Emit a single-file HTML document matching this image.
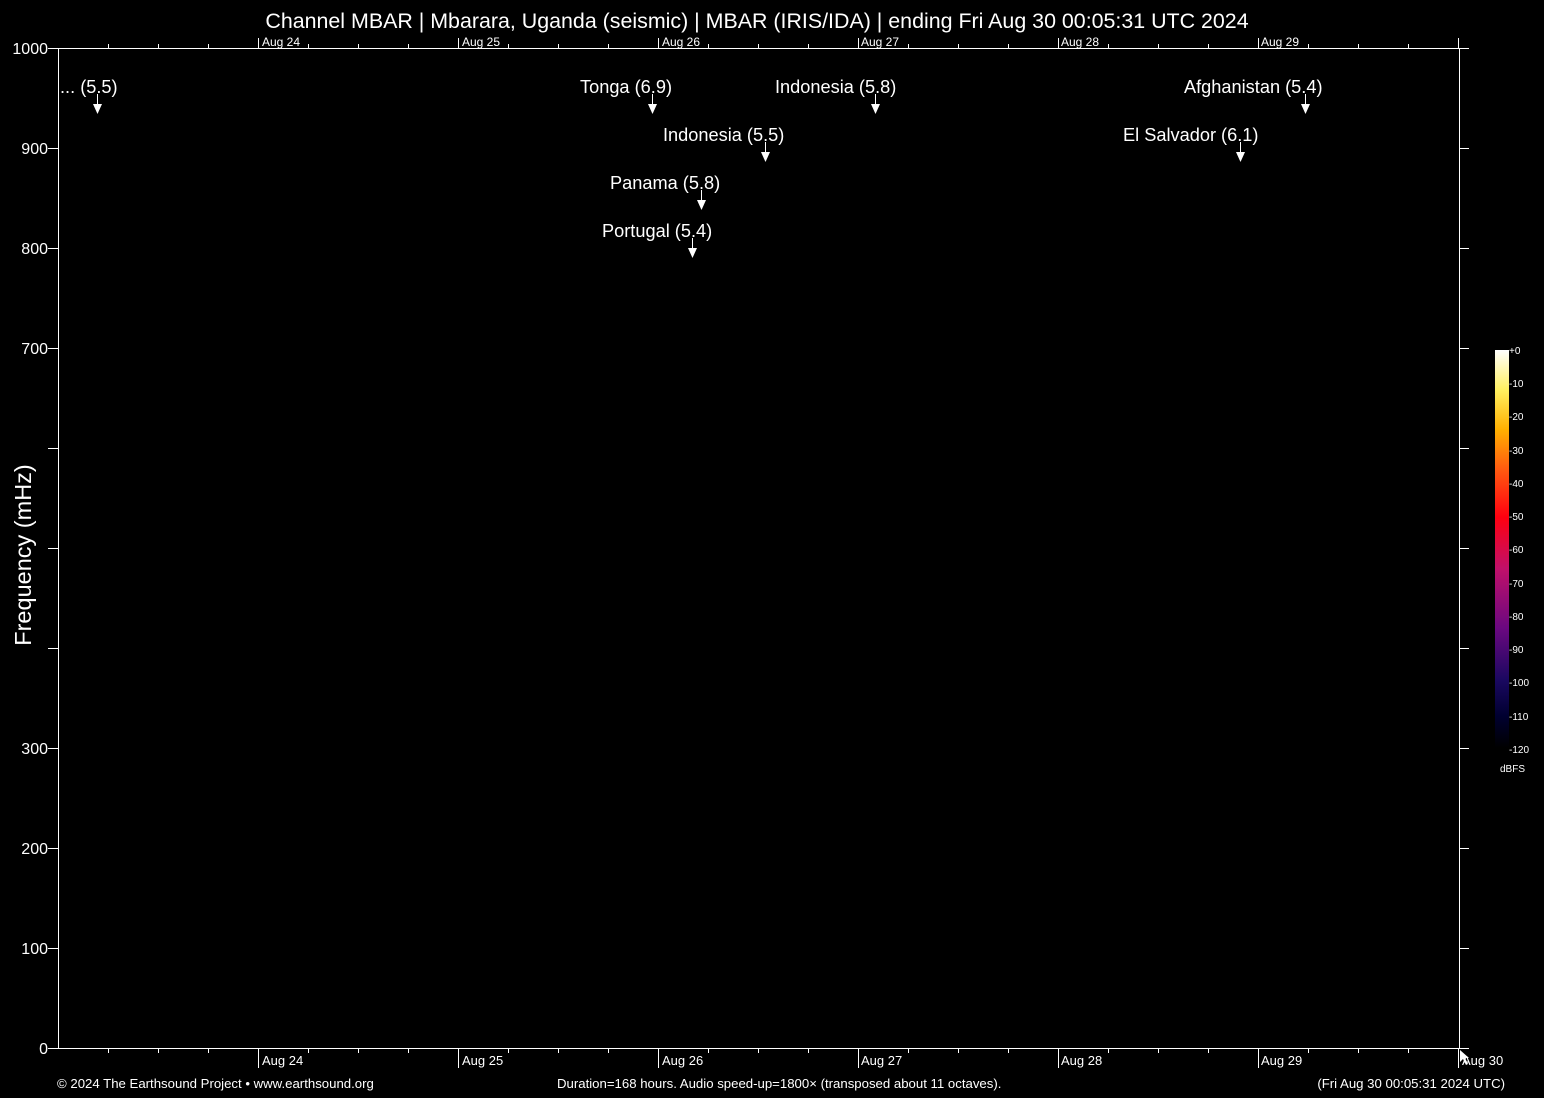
<!DOCTYPE html>
<html><head><meta charset="utf-8"><style>
html,body{margin:0;padding:0;background:#000;}
svg{display:block;font-family:"Liberation Sans",sans-serif;}
</style></head><body>
<svg width="1544" height="1098" viewBox="0 0 1544 1098" xmlns="http://www.w3.org/2000/svg">
<defs>
<linearGradient id="cb" x1="0" y1="1" x2="0" y2="0">
<stop offset="0" stop-color="#000000"/>
<stop offset="0.08" stop-color="#000030"/>
<stop offset="0.17" stop-color="#1a0860"/>
<stop offset="0.3" stop-color="#6a0880"/>
<stop offset="0.45" stop-color="#c0106a"/>
<stop offset="0.58" stop-color="#ff0010"/>
<stop offset="0.7" stop-color="#ff5a10"/>
<stop offset="0.8" stop-color="#ffb000"/>
<stop offset="0.9" stop-color="#fff060"/>
<stop offset="1" stop-color="#ffffff"/>
</linearGradient>
</defs>
<rect width="1544" height="1098" fill="#000"/>
<text x="757" y="28" fill="#fff" font-size="21.4" text-anchor="middle">Channel MBAR | Mbarara, Uganda (seismic) | MBAR (IRIS/IDA) | ending Fri Aug 30 00:05:31 UTC 2024</text>
<g stroke="#fff" stroke-width="1" fill="none" shape-rendering="crispEdges">
<path d="M58.5 48.5H1469 M58.5 48V1048 M58 1048.5H1469 M1459.5 48V1048"/>
<path d="M48 48.5H58 M48 148.5H58 M48 248.5H58 M48 348.5H58 M48 448.5H58 M48 548.5H58 M48 648.5H58 M48 748.5H58 M48 848.5H58 M48 948.5H58 M48 1048.5H58"/>
<path d="M1459 148.5H1469 M1459 248.5H1469 M1459 348.5H1469 M1459 448.5H1469 M1459 548.5H1469 M1459 648.5H1469 M1459 748.5H1469 M1459 848.5H1469 M1459 948.5H1469"/>
<path d="M258.5 1048V1068 M458.5 1048V1068 M658.5 1048V1068 M858.5 1048V1068 M1058.5 1048V1068 M1258.5 1048V1068 M1458.5 1048V1068"/>
<path d="M108.5 1048V1053 M158.5 1048V1053 M208.5 1048V1053 M308.5 1048V1053 M358.5 1048V1053 M408.5 1048V1053 M508.5 1048V1053 M558.5 1048V1053 M608.5 1048V1053 M708.5 1048V1053 M758.5 1048V1053 M808.5 1048V1053 M908.5 1048V1053 M958.5 1048V1053 M1008.5 1048V1053 M1108.5 1048V1053 M1158.5 1048V1053 M1208.5 1048V1053 M1308.5 1048V1053 M1358.5 1048V1053 M1408.5 1048V1053"/>
<path d="M258.5 38V48 M458.5 38V48 M658.5 38V48 M858.5 38V48 M1058.5 38V48 M1258.5 38V48 M1458.5 38V48"/>
<path d="M108.5 44V48 M158.5 44V48 M208.5 44V48 M308.5 44V48 M358.5 44V48 M408.5 44V48 M508.5 44V48 M558.5 44V48 M608.5 44V48 M708.5 44V48 M758.5 44V48 M808.5 44V48 M908.5 44V48 M958.5 44V48 M1008.5 44V48 M1108.5 44V48 M1158.5 44V48 M1208.5 44V48 M1308.5 44V48 M1358.5 44V48 M1408.5 44V48"/>
<path d="M97.5 94V105 M652.5 94V105 M875.5 94V105 M1305.5 94V105 M765.5 142V153 M1240.5 142V153 M701.5 190V201 M692.5 238V249"/>
</g>
<g fill="#fff">
<path d="M93 104H102L97.5 114Z"/><path d="M648 104H657L652.5 114Z"/><path d="M871 104H880L875.5 114Z"/><path d="M1301 104H1310L1305.5 114Z"/>
<path d="M761 152H770L765.5 162Z"/><path d="M1236 152H1245L1240.5 162Z"/><path d="M697 200H706L701.5 210Z"/><path d="M688 248H697L692.5 258Z"/>
</g>
<g fill="#fff" font-size="18.2">
<text x="60" y="93">... (5.5)</text>
<text x="580" y="93">Tonga (6.9)</text>
<text x="775" y="93">Indonesia (5.8)</text>
<text x="1184" y="93">Afghanistan (5.4)</text>
<text x="663" y="141">Indonesia (5.5)</text>
<text x="1123" y="141">El Salvador (6.1)</text>
<text x="610" y="189">Panama (5.8)</text>
<text x="602" y="237">Portugal (5.4)</text>
</g>
<g fill="#fff" font-size="16" text-anchor="end">
<text x="48" y="54">1000</text><text x="48" y="154">900</text><text x="48" y="254">800</text><text x="48" y="354">700</text>
<text x="48" y="754">300</text><text x="48" y="854">200</text><text x="48" y="954">100</text><text x="48" y="1054">0</text>
</g>
<text transform="translate(31,555) rotate(-90)" fill="#fff" font-size="23.5" text-anchor="middle">Frequency (mHz)</text>
<g fill="#fff" font-size="12">
<text x="262" y="46">Aug 24</text><text x="462" y="46">Aug 25</text><text x="662" y="46">Aug 26</text><text x="861" y="46">Aug 27</text><text x="1061" y="46">Aug 28</text><text x="1261" y="46">Aug 29</text>
</g>
<g fill="#fff" font-size="13">
<text x="262" y="1065">Aug 24</text><text x="462" y="1065">Aug 25</text><text x="662" y="1065">Aug 26</text><text x="861" y="1065">Aug 27</text><text x="1061" y="1065">Aug 28</text><text x="1261" y="1065">Aug 29</text><text x="1462" y="1065">Aug 30</text>
</g>
<g fill="#fff" font-size="13.2">
<text x="57" y="1088">© 2024 The Earthsound Project • www.earthsound.org</text>
<text x="557" y="1088">Duration=168 hours. Audio speed-up=1800× (transposed about 11 octaves).</text>
<text x="1505" y="1088" text-anchor="end">(Fri Aug 30 00:05:31 2024 UTC)</text>
</g>
<path d="M1460 1050L1460 1062L1463 1059L1466 1065L1468 1064L1465 1058L1469 1058Z" fill="#fff"/>
<rect x="1495" y="350" width="14" height="398" fill="url(#cb)"/>
<g fill="#fff" font-size="10">
<text x="1509" y="354">+0</text><text x="1509" y="387">-10</text><text x="1509" y="420">-20</text><text x="1509" y="454">-30</text><text x="1509" y="487">-40</text><text x="1509" y="520">-50</text><text x="1509" y="553">-60</text><text x="1509" y="587">-70</text><text x="1509" y="620">-80</text><text x="1509" y="653">-90</text><text x="1509" y="686">-100</text><text x="1509" y="720">-110</text><text x="1509" y="753">-120</text>
<text x="1500" y="772">dBFS</text>
</g>
</svg>
</body></html>
